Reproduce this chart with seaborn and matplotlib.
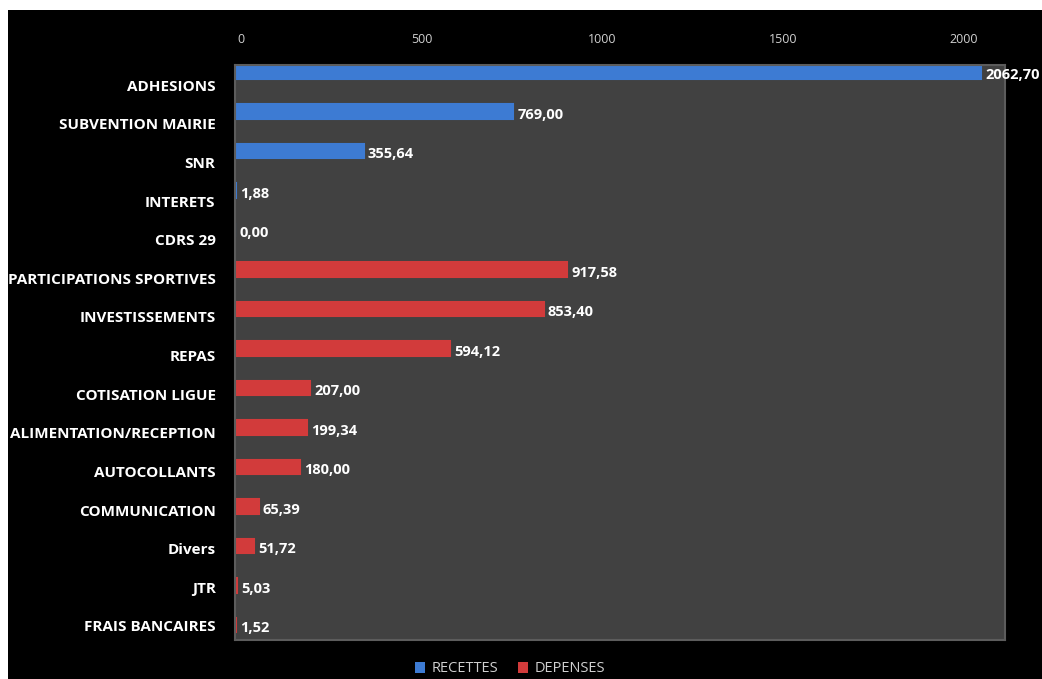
import pandas as pd
import matplotlib.pyplot as plt
import matplotlib.transforms as mtransforms
from matplotlib.patches import Rectangle
import seaborn as sns

# Données
postes_recettes = ['ADHESIONS', 'SUBVENTION MAIRIE', 'SNR', 'INTERETS', 'CDRS 29']
valeurs_recettes = [2062.70, 769.00, 355.64, 1.88, 0.00]
postes_depenses = ['PARTICIPATIONS SPORTIVES', 'INVESTISSEMENTS', 'REPAS', 'COTISATION LIGUE',
                   'ALIMENTATION/RECEPTION', 'AUTOCOLLANTS', 'COMMUNICATION', 'Divers', 'JTR',
                   'FRAIS BANCAIRES']
valeurs_depenses = [917.58, 853.40, 594.12, 207.00, 199.34, 180.00, 65.39, 51.72, 5.03, 1.52]
x_ticks = [0, 500, 1000, 1500, 2000]

df = pd.DataFrame({
    'poste': postes_recettes + postes_depenses,
    'valeur': valeurs_recettes + valeurs_depenses,
    'type': ['RECETTES'] * len(postes_recettes) + ['DEPENSES'] * len(postes_depenses),
})

sns.set_style('dark')
plt.rcParams['font.family'] = ['Open Sans', 'DejaVu Sans']

fig = plt.figure(figsize=(10.42, 6.79), dpi=100, facecolor='white')
# fond noir (petite marge blanche en haut et a gauche)
fig.patches.append(Rectangle((8 / 1042, 0), 1, 1 - 10 / 679, transform=fig.transFigure,
                             facecolor='black', edgecolor='none', zorder=-5))
ax = fig.add_axes([235 / 1042, 1 - 640 / 679, 770 / 1042, 575 / 679])
ax.set_facecolor('#414141')

palette = {'RECETTES': '#3d7bd3', 'DEPENSES': '#d23b3b'}
sns.barplot(data=df, x='valeur', y='poste', hue='type', palette=palette, dodge=False,
            width=0.36, ax=ax, saturation=1, linewidth=1.5)
# contour de la couleur de la barre (les petites valeurs restent visibles)
for bar in ax.patches:
    bar.set_edgecolor(bar.get_facecolor())

ax.set_xlim(0, 2130)
ax.set_ylim(14.38, -0.18)
ax.xaxis.tick_top()
ax.set_xticks(x_ticks)
ax.set_xticklabels([str(t) for t in x_ticks], color='#d0d0d0', fontsize=9)
ax.tick_params(axis='both', length=0, pad=14)
ax.tick_params(axis='y', pad=14)
ax.set_xlabel('')
ax.set_ylabel('')
ax.grid(False)
for s in ax.spines.values():
    s.set_color('#5c5c5c')
    s.set_linewidth(1.5)

shift_x = mtransforms.ScaledTranslation(6 / 100, 0, fig.dpi_scale_trans)
for lab in ax.get_xticklabels():
    lab.set_transform(lab.get_transform() + shift_x)

# libellés des postes, décalés vers le bas (effet de perspective)
n = len(df)
for i, lab in enumerate(ax.get_yticklabels()):
    dy = 12 * (1 - i / (n - 1)) + 1
    lab.set_color('white')
    lab.set_fontweight('bold')
    lab.set_fontsize(11)
    lab.set_transform(lab.get_transform() + mtransforms.ScaledTranslation(0, -dy / 100, fig.dpi_scale_trans))

# valeurs
for i, v in enumerate(df['valeur']):
    ax.text(v + 12, i + 0.08, f'{v:.2f}'.replace('.', ','), color='white', fontsize=10.5,
            fontweight='bold', va='center', ha='left', clip_on=False)

sns.move_legend(ax, 'center', bbox_to_anchor=(510 / 1042, 10 / 679), bbox_transform=fig.transFigure,
                ncol=2, frameon=False, title=None, labelcolor='#cfcfcf', fontsize=10.5,
                handlelength=0.7, handleheight=0.7, columnspacing=1.4, handletextpad=0.4)
for h in ax.get_legend().legend_handles:
    h.set_edgecolor('none')

plt.savefig('out.png', dpi=100, facecolor=fig.get_facecolor())
